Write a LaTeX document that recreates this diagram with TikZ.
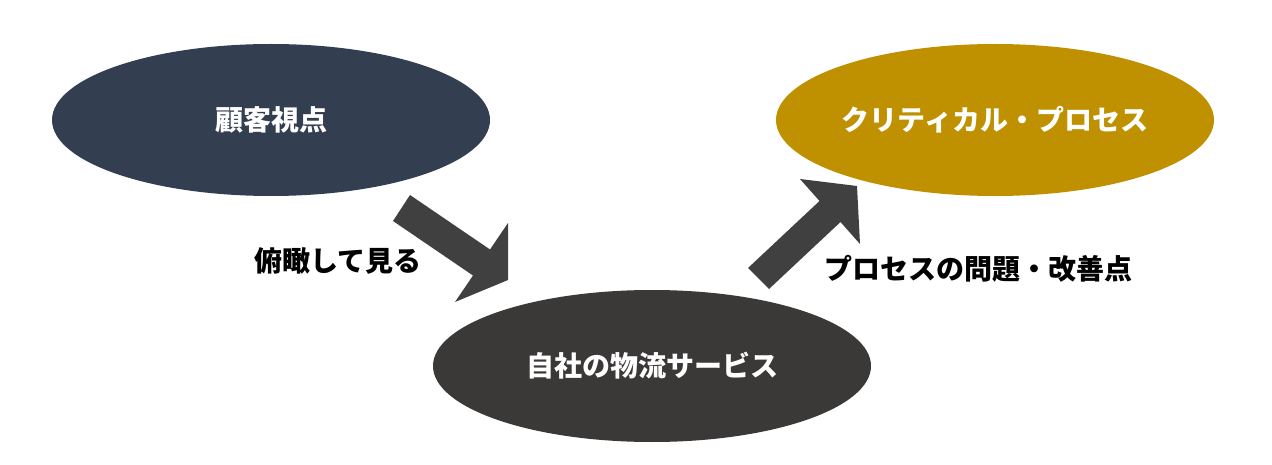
\documentclass[tikz,border=0pt]{standalone}
\usepackage{fontspec}
\setmainfont{Noto Sans CJK JP}
\usetikzlibrary{shapes.geometric}
\definecolor{navy}{HTML}{333F50}
\definecolor{dgray}{HTML}{3B3838}
\definecolor{gold}{HTML}{BF9000}
\definecolor{arrowgray}{HTML}{404040}
\begin{document}
\begin{tikzpicture}[x=1pt,y=-1pt,
  ell/.style={ellipse, minimum width=438pt, minimum height=152pt, inner sep=0pt,
    text=white, font=\fontsize{28}{32}\selectfont\bfseries},
  lab/.style={inner sep=0pt, text=black, font=\fontsize{28}{32}\selectfont\bfseries},
  blockarrow/.style={fill=arrowgray, draw=none}]
\useasboundingbox[fill=white] (0,0) rectangle (1272,465);
\node[ell, fill=navy] (kokyaku) at (271,120) {顧客視点};
\node[ell, fill=dgray] (jisha) at (652,366) {自社の物流サービス};
\node[ell, fill=gold] (critical) at (995,120) {クリティカル・プロセス};
% block arrow 1
\coordinate (a1) at (410,195);
\coordinate (a2) at (490,249.5);
\coordinate (a3) at (508,223);
\coordinate (a4) at (508,280);
\coordinate (a5) at (455,302);
\coordinate (a6) at (473,275.5);
\coordinate (a7) at (393,221);
\fill[blockarrow] (a1) -- (a2) -- (a3) -- (a4) -- (a5) -- (a6) -- (a7) -- cycle;
% block arrow 2
\coordinate (b1) at (748,268);
\coordinate (b2) at (819.5,201);
\coordinate (b3) at (800,179);
\coordinate (b4) at (857,186);
\coordinate (b5) at (860,244);
\coordinate (b6) at (840.5,222);
\coordinate (b7) at (769,289);
\fill[blockarrow] (b1) -- (b2) -- (b3) -- (b4) -- (b5) -- (b6) -- (b7) -- cycle;
\node[lab] (fukan) at (338,261) {俯瞰して見る};
\node[lab] (mondai) at (978,269) {プロセスの問題・改善点};
\end{tikzpicture}
\end{document}
